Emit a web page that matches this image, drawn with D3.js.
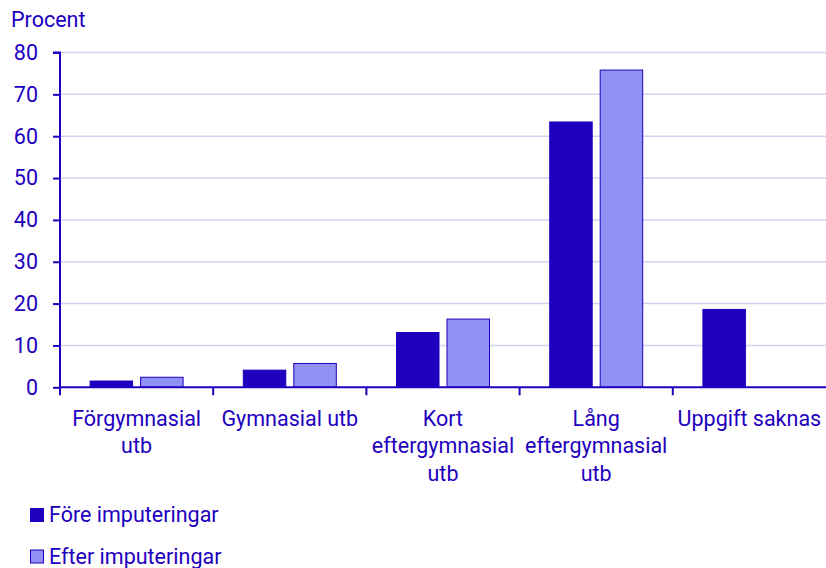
<!DOCTYPE html>
<html><head><meta charset="utf-8">
<script src="https://cdn.jsdelivr.net/npm/d3@7"></script>
<style>body{margin:0;background:#fff;} text{font-family:Roboto,sans-serif;}</style>
</head><body>
<svg id="c" width="826" height="568"></svg>
<script>
const categories = [["Förgymnasial","utb"],["Gymnasial utb"],["Kort","eftergymnasial","utb"],["Lång","eftergymnasial","utb"],["Uppgift saknas"]];
const seriesNames = ["Före imputeringar","Efter imputeringar"];
const fore = [1.5, 4.1, 13.1, 63.4, 18.6];
const efter = [2.4, 5.7, 16.3, 75.8, null];
const yTicks = [0,10,20,30,40,50,60,70,80];

const dark = "#1e00be", light = "#8f92f4", grid = "#d3d3f0";
const svg = d3.select("#c");
const m = {l:60, r:826, t:52.5, b:387.3};
const x = d3.scaleBand().domain(d3.range(categories.length)).range([m.l, m.r]).paddingInner(0).paddingOuter(0);
const y = d3.scaleLinear().domain([0,80]).range([m.b, m.t]);
const fs = 21.5;

// gridlines
svg.append("g").selectAll("line").data(yTicks.filter(d=>d>0)).join("line")
  .attr("x1", m.l).attr("x2", m.r).attr("y1", d=>y(d)).attr("y2", d=>y(d))
  .attr("stroke", grid).attr("stroke-width", 1.5);

// bars
const bw = 42.5, gap = 8;
const groupW = bw*2+gap;
const series = [fore, efter];
series.forEach((vals, si) => {
  svg.append("g").selectAll("rect").data(vals.map((v,i)=>({v,i})).filter(d=>d.v!=null)).join("rect")
    .attr("x", d => x(d.i) + (x.bandwidth()-groupW)/2 + si*(bw+gap))
    .attr("y", d => y(d.v))
    .attr("width", bw)
    .attr("height", d => y(0)-y(d.v))
    .attr("fill", si===0 ? dark : light)
    .attr("stroke", dark).attr("stroke-width", 1);
});

// y axis
const ya = svg.append("g").attr("transform", `translate(${m.l},0)`)
  .call(d3.axisLeft(y).tickValues(yTicks).tickSize(7).tickPadding(15));
ya.select(".domain").attr("stroke", dark).attr("stroke-width", 2).attr("d", `M-7,${m.t}H0V${m.b}`);
ya.selectAll(".tick line").attr("stroke", dark).attr("stroke-width", 2);
ya.selectAll(".tick text").attr("fill", dark).style("font-size", fs+"px").style("font-family","Roboto");

// x axis
const xa = svg.append("g").attr("transform", `translate(0,${m.b})`);
xa.append("line").attr("x1", m.l).attr("x2", m.r).attr("stroke", dark).attr("stroke-width", 2);
xa.selectAll(".tk").data(d3.range(categories.length)).join("line")
  .attr("x1", d=>x(d)).attr("x2", d=>x(d)).attr("y1",0).attr("y2",8)
  .attr("stroke", dark).attr("stroke-width", 2);
const lbl = xa.selectAll(".lb").data(categories).join("text")
  .attr("text-anchor","middle").attr("fill", dark).style("font-size", fs+"px");
lbl.each(function(lines, i){
  const t = d3.select(this);
  lines.forEach((ln, j) => {
    t.append("tspan").attr("x", x(i)+x.bandwidth()/2).attr("y", 38.4 + j*27.7).text(ln);
  });
});

// y title
svg.append("text").attr("x", 11).attr("y", 26.7).attr("fill", dark).style("font-size", fs+"px").text("Procent");

// legend
const lg = svg.append("g");
seriesNames.forEach((n, i) => {
  const yy = 508 + i*41.5;
  lg.append("rect").attr("x", 30.5).attr("y", yy+0.5).attr("width", 13).attr("height", 13)
    .attr("fill", i===0?dark:light).attr("stroke", dark).attr("stroke-width", 1);
  lg.append("text").attr("x", 49).attr("y", yy+14).attr("fill", dark).style("font-size", fs+"px").text(n);
});
</script>
</body></html>
